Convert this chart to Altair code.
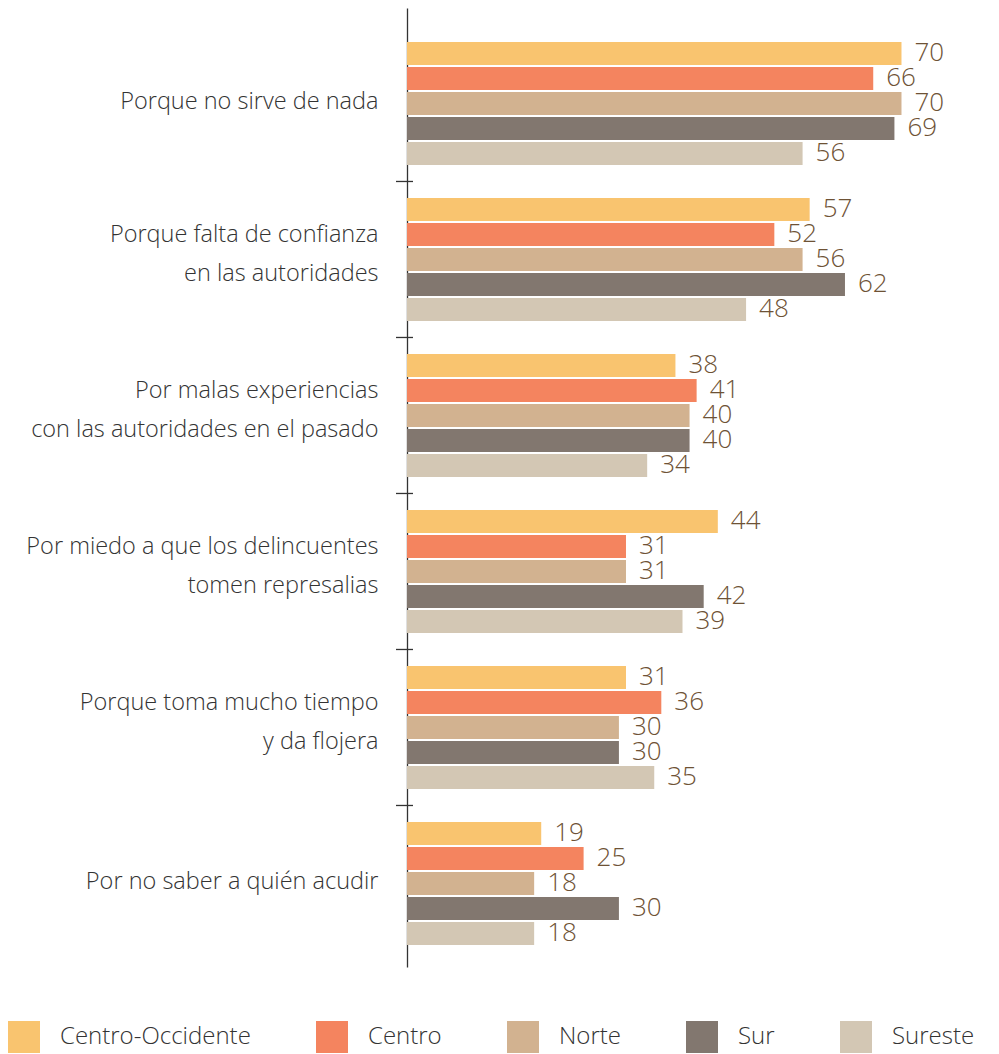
import altair as alt
import pandas as pd

categories = [
    "Porque no sirve de nada",
    "Porque falta de confianza|en las autoridades",
    "Por malas experiencias|con las autoridades en el pasado",
    "Por miedo a que los delincuentes|tomen represalias",
    "Porque toma mucho tiempo|y da flojera",
    "Por no saber a quién acudir",
]
series = ["Centro-Occidente", "Centro", "Norte", "Sur", "Sureste"]
colors = ["#F9C46F", "#F4845F", "#D2B290", "#82776F", "#D3C7B4"]

centro_occidente = [70, 57, 38, 44, 31, 19]
centro = [66, 52, 41, 31, 36, 25]
norte = [70, 56, 40, 31, 30, 18]
sur = [69, 62, 40, 42, 30, 30]
sureste = [56, 48, 34, 39, 35, 18]

values = [centro_occidente, centro, norte, sur, sureste]
rows = []
for s, vals in zip(series, values):
    for c, v in zip(categories, vals):
        rows.append({"cat": c, "series": s, "value": v})
df = pd.DataFrame(rows)
ticks_df = pd.DataFrame({"cat": categories[1:]})

FONT = "Open Sans"

y_scale = alt.Scale(domain=categories, paddingInner=0, paddingOuter=0.0737, align=0.76)
y_enc = alt.Y(
    "cat:N",
    sort=categories,
    scale=y_scale,
    title=None,
    axis=alt.Axis(
        domain=True,
        domainColor="#333333",
        domainWidth=1.3,
        ticks=False,
        tickSize=0,
        labelPadding=29,
        labelFontSize=23.5,
        labelFont=FONT,
        labelFontWeight=300,
        labelColor="#333333",
        labelLineHeight=39,
        labelOffset=alt.condition("indexof(datum.value, '|') >= 0", alt.value(-24), alt.value(-1)),
        labelLimit=0,
        labelExpr="split(datum.label, '|')",
    ),
)
yoff = alt.YOffset(
    "series:N",
    sort=series,
    scale=alt.Scale(domain=series, paddingInner=0.08, paddingOuter=0.66),
)
x_enc = alt.X("value:Q", scale=alt.Scale(domain=[0, 78], nice=False), axis=None)

bars = alt.Chart(df).mark_bar().encode(
    y=y_enc,
    yOffset=yoff,
    x=x_enc,
    color=alt.Color(
        "series:N",
        sort=series,
        scale=alt.Scale(domain=series, range=colors),
        legend=alt.Legend(
            title=None,
            orient="none",
            legendX=-399,
            legendY=1013,
            direction="horizontal",
            columns=5,
            columnPadding=65,
            symbolType="square",
            symbolSize=1024,
            symbolStrokeWidth=0,
            symbolOpacity=1,
            labelFontSize=24,
            labelFont=FONT,
            labelFontWeight=300,
            labelColor="#333333",
            labelOffset=20,
            labelLimit=0,
        ),
    ),
)

labels = alt.Chart(df).mark_text(
    align="left", baseline="middle", dx=13, fontSize=26, font=FONT, fontWeight=300, color="#6E5235"
).encode(
    y=alt.Y("cat:N", sort=categories),
    yOffset=alt.YOffset("series:N", sort=series),
    x=alt.X("value:Q"),
    text=alt.Text("value:Q"),
)

tick_marks = alt.Chart(ticks_df).mark_rule(color="#333333", strokeWidth=1.3).encode(
    y=alt.Y("cat:N", sort=categories, bandPosition=0),
    x=alt.value(-11),
    x2=alt.value(6),
)

chart = alt.layer(bars, labels, tick_marks).properties(
    width=551,
    height=959,
    autosize=alt.AutoSizeParams(type="none"),
    padding={"left": 399, "top": 0, "right": 33, "bottom": 87},
).configure_view(stroke=None)

chart.save("out.html", embed_options={"renderer": "svg", "actions": False})
